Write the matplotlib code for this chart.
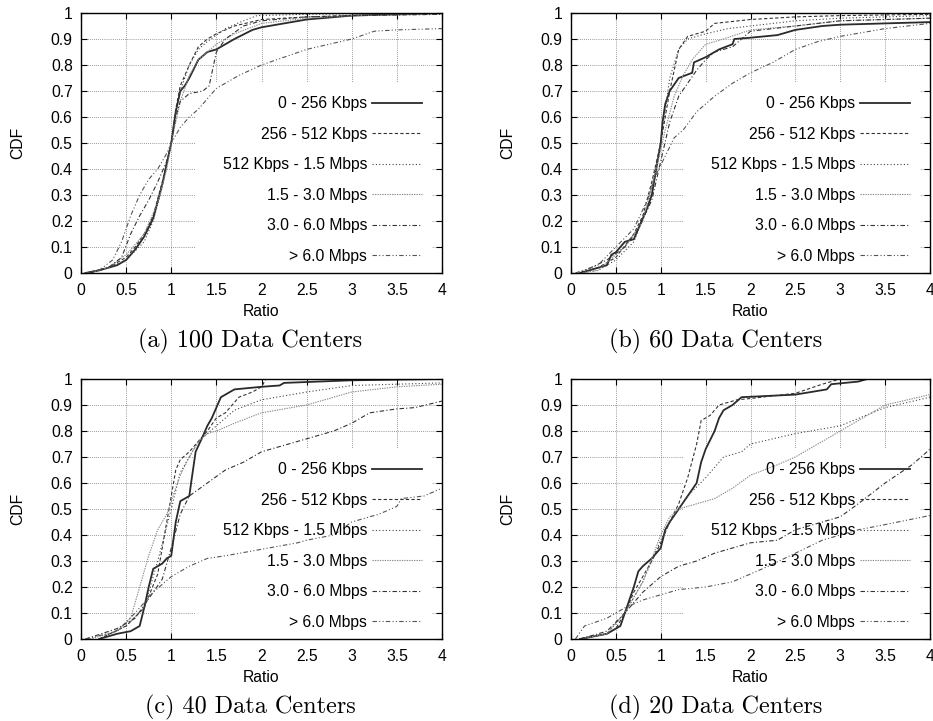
import matplotlib
matplotlib.use("Agg")
import matplotlib.pyplot as plt
from matplotlib.patches import Rectangle

plt.rcParams['font.family'] = ['Liberation Sans', 'DejaVu Sans']

labels = ["0 - 256 Kbps", "256 - 512 Kbps", "512 Kbps - 1.5 Mbps",
          "1.5 - 3.0 Mbps", "3.0 - 6.0 Mbps", "> 6.0 Mbps"]
captions = ["(a) 100 Data Centers", "(b) 60 Data Centers",
            "(c) 40 Data Centers", "(d) 20 Data Centers"]
xticks = [0, 0.5, 1, 1.5, 2, 2.5, 3, 3.5, 4]
xtick_labels = ["0", "0.5", "1", "1.5", "2", "2.5", "3", "3.5", "4"]
yticks = [0, 0.1, 0.2, 0.3, 0.4, 0.5, 0.6, 0.7, 0.8, 0.9, 1]
ytick_labels = ["0", "0.1", "0.2", "0.3", "0.4", "0.5", "0.6", "0.7", "0.8", "0.9", "1"]

# ---- (a) 100 data centers
a1_x = [0.05, 0.2, 0.4, 0.5, 0.6, 0.7, 0.8, 0.9, 0.95, 1.0, 1.05, 1.1, 1.15, 1.2, 1.3, 1.4, 1.5, 1.7, 1.9, 2.0, 2.5, 3.0, 3.5, 4.0]
a1_y = [0, 0.01, 0.03, 0.05, 0.09, 0.14, 0.21, 0.34, 0.42, 0.5, 0.62, 0.7, 0.72, 0.75, 0.82, 0.85, 0.86, 0.9, 0.935, 0.945, 0.975, 0.99, 0.995, 1.0]
a2_x = [0.05, 0.3, 0.5, 0.6, 0.7, 0.8, 0.9, 1.0, 1.05, 1.1, 1.2, 1.3, 1.4, 1.5, 1.7, 2.0, 2.5, 3.0, 4.0]
a2_y = [0, 0.02, 0.06, 0.1, 0.15, 0.22, 0.35, 0.5, 0.63, 0.72, 0.8, 0.87, 0.9, 0.92, 0.95, 0.975, 0.985, 0.99, 1.0]
a3_x = [0.05, 0.3, 0.5, 0.7, 0.8, 0.9, 1.0, 1.05, 1.1, 1.2, 1.3, 1.4, 1.6, 1.8, 1.95, 2.5, 4.0]
a3_y = [0, 0.02, 0.05, 0.12, 0.2, 0.33, 0.5, 0.62, 0.7, 0.8, 0.86, 0.89, 0.94, 0.97, 0.99, 0.995, 1.0]
a4_x = [0.1, 0.3, 0.5, 0.7, 0.85, 0.95, 1.0, 1.1, 1.2, 1.3, 1.5, 1.7, 2.0, 2.5, 3.0, 4.0]
a4_y = [0, 0.02, 0.07, 0.15, 0.27, 0.4, 0.5, 0.66, 0.76, 0.82, 0.88, 0.92, 0.96, 0.98, 0.99, 0.995]
a5_x = [0.1, 0.3, 0.45, 0.55, 0.65, 0.75, 0.85, 0.95, 1.0, 1.05, 1.1, 1.2, 1.35, 1.42, 1.5, 1.6, 1.8, 2.0, 2.5, 3.0, 4.0]
a5_y = [0, 0.02, 0.06, 0.15, 0.22, 0.28, 0.35, 0.43, 0.5, 0.6, 0.66, 0.69, 0.7, 0.72, 0.85, 0.9, 0.95, 0.97, 0.985, 0.99, 0.995]
a6_x = [0.05, 0.2, 0.35, 0.45, 0.55, 0.65, 0.75, 0.85, 0.95, 1.0, 1.05, 1.1, 1.2, 1.3, 1.4, 1.5, 1.75, 2.0, 2.25, 2.5, 2.75, 3.0, 3.25, 3.5, 4.0]
a6_y = [0, 0.01, 0.05, 0.12, 0.22, 0.3, 0.36, 0.4, 0.46, 0.5, 0.53, 0.56, 0.6, 0.63, 0.67, 0.71, 0.76, 0.8, 0.83, 0.86, 0.88, 0.9, 0.93, 0.935, 0.94]

# ---- (b) 60 data centers
b1_x = [0.1, 0.2, 0.4, 0.45, 0.5, 0.55, 0.6, 0.7, 0.75, 0.85, 0.9, 0.95, 1.0, 1.02, 1.05, 1.1, 1.2, 1.35, 1.37, 1.5, 1.65, 1.8, 1.82, 2.0, 2.3, 2.5, 2.8, 3.0, 3.5, 4.0]
b1_y = [0, 0.01, 0.03, 0.07, 0.08, 0.1, 0.12, 0.13, 0.17, 0.25, 0.3, 0.4, 0.5, 0.58, 0.65, 0.7, 0.75, 0.77, 0.81, 0.83, 0.86, 0.88, 0.9, 0.905, 0.915, 0.935, 0.95, 0.955, 0.96, 0.965]
b2_x = [0.1, 0.3, 0.5, 0.7, 0.8, 0.9, 1.0, 1.1, 1.2, 1.3, 1.5, 1.6, 2.0, 2.5, 3.0, 4.0]
b2_y = [0, 0.02, 0.06, 0.15, 0.22, 0.35, 0.5, 0.7, 0.86, 0.91, 0.93, 0.96, 0.975, 0.985, 0.99, 0.995]
b3_x = [0.1, 0.3, 0.5, 0.7, 0.85, 0.95, 1.0, 1.1, 1.2, 1.3, 1.5, 1.75, 2.0, 2.5, 3.0, 4.0]
b3_y = [0, 0.01, 0.05, 0.12, 0.25, 0.42, 0.5, 0.75, 0.86, 0.9, 0.92, 0.94, 0.95, 0.97, 0.98, 0.99]
b4_x = [0.1, 0.3, 0.6, 0.8, 0.95, 1.05, 1.15, 1.25, 1.35, 1.5, 1.7, 2.0, 2.5, 3.0, 4.0]
b4_y = [0, 0.01, 0.1, 0.2, 0.4, 0.55, 0.68, 0.76, 0.82, 0.88, 0.9, 0.935, 0.95, 0.97, 0.98]
b5_x = [0.1, 0.4, 0.6, 0.75, 0.9, 1.0, 1.1, 1.2, 1.3, 1.4, 1.5, 1.6, 1.8, 1.9, 2.0, 2.5, 3.0, 3.5, 4.0]
b5_y = [0, 0.05, 0.1, 0.17, 0.28, 0.43, 0.58, 0.68, 0.73, 0.78, 0.82, 0.85, 0.87, 0.9, 0.93, 0.95, 0.97, 0.975, 0.98]
b6_x = [0.05, 0.3, 0.5, 0.7, 0.85, 0.95, 1.05, 1.15, 1.25, 1.4, 1.6, 1.8, 2.0, 2.25, 2.5, 2.75, 3.0, 3.5, 4.0]
b6_y = [0, 0.03, 0.1, 0.17, 0.28, 0.38, 0.45, 0.52, 0.55, 0.62, 0.68, 0.73, 0.77, 0.81, 0.86, 0.89, 0.91, 0.94, 0.96]

# ---- (c) 40 data centers
c1_x = [0.2, 0.4, 0.55, 0.65, 0.7, 0.75, 0.8, 0.9, 0.95, 1.0, 1.05, 1.1, 1.2, 1.22, 1.27, 1.35, 1.4, 1.45, 1.5, 1.55, 1.7, 2.0, 2.2, 2.25, 3.0, 4.0]
c1_y = [0, 0.02, 0.03, 0.05, 0.12, 0.2, 0.27, 0.29, 0.31, 0.32, 0.45, 0.53, 0.55, 0.6, 0.72, 0.78, 0.82, 0.85, 0.89, 0.93, 0.96, 0.97, 0.975, 0.985, 0.995, 1.0]
c2_x = [0.2, 0.5, 0.7, 0.85, 0.95, 1.05, 1.1, 1.2, 1.3, 1.4, 1.5, 1.6, 1.75, 1.9, 2.0, 2.05, 4.0]
c2_y = [0, 0.05, 0.12, 0.25, 0.45, 0.65, 0.69, 0.72, 0.76, 0.8, 0.85, 0.87, 0.93, 0.95, 0.97, 1.0, 1.0]
c3_x = [0.2, 0.5, 0.7, 0.85, 1.0, 1.1, 1.2, 1.3, 1.5, 1.7, 2.0, 2.5, 3.0, 3.5, 4.0]
c3_y = [0, 0.05, 0.12, 0.3, 0.5, 0.64, 0.7, 0.76, 0.82, 0.88, 0.92, 0.95, 0.975, 0.98, 0.985]
c4_x = [0.1, 0.4, 0.55, 0.65, 0.75, 0.85, 0.95, 1.0, 1.1, 1.2, 1.3, 1.4, 1.5, 1.7, 2.0, 2.5, 2.8, 3.0, 3.5, 4.0]
c4_y = [0, 0.03, 0.08, 0.2, 0.32, 0.42, 0.48, 0.53, 0.63, 0.7, 0.76, 0.79, 0.8, 0.83, 0.87, 0.9, 0.93, 0.95, 0.97, 0.98]
c5_x = [0.05, 0.4, 0.6, 0.8, 0.9, 1.0, 1.1, 1.2, 1.4, 1.6, 1.8, 2.0, 2.5, 2.8, 3.0, 3.2, 3.5, 3.7, 4.0]
c5_y = [0, 0.04, 0.08, 0.18, 0.23, 0.35, 0.48, 0.55, 0.6, 0.65, 0.68, 0.72, 0.77, 0.8, 0.83, 0.87, 0.885, 0.89, 0.915]
c6_x = [0.05, 0.4, 0.6, 0.8, 1.0, 1.2, 1.4, 1.6, 2.0, 2.4, 2.5, 2.8, 3.0, 3.3, 3.5, 3.55, 3.8, 4.0]
c6_y = [0, 0.03, 0.1, 0.18, 0.24, 0.28, 0.31, 0.32, 0.345, 0.37, 0.38, 0.4, 0.45, 0.48, 0.51, 0.54, 0.55, 0.58]

# ---- (d) 20 data centers
d1_x = [0.1, 0.4, 0.55, 0.6, 0.7, 0.75, 0.8, 0.9, 1.0, 1.05, 1.1, 1.2, 1.3, 1.4, 1.45, 1.5, 1.6, 1.65, 1.7, 1.8, 1.9, 2.5, 2.85, 2.9, 3.2, 3.3]
d1_y = [0, 0.02, 0.05, 0.1, 0.2, 0.26, 0.28, 0.31, 0.35, 0.42, 0.45, 0.5, 0.55, 0.6, 0.68, 0.73, 0.8, 0.85, 0.88, 0.9, 0.93, 0.94, 0.96, 0.98, 0.99, 1.0]
d2_x = [0.1, 0.4, 0.5, 0.6, 0.7, 0.8, 0.9, 1.0, 1.1, 1.2, 1.3, 1.4, 1.45, 1.55, 1.65, 1.85, 2.0, 2.5, 2.8, 3.0]
d2_y = [0, 0.02, 0.04, 0.1, 0.18, 0.24, 0.3, 0.37, 0.45, 0.52, 0.62, 0.75, 0.84, 0.86, 0.9, 0.92, 0.925, 0.945, 0.98, 1.0]
d3_x = [0.1, 0.4, 0.6, 0.8, 1.0, 1.1, 1.3, 1.5, 1.7, 1.9, 2.0, 2.5, 3.0, 3.5, 4.0]
d3_y = [0, 0.02, 0.1, 0.22, 0.38, 0.45, 0.55, 0.62, 0.7, 0.72, 0.75, 0.79, 0.82, 0.89, 0.93]
d4_x = [0.1, 0.4, 0.6, 0.8, 1.0, 1.1, 1.2, 1.4, 1.6, 1.8, 2.0, 2.3, 2.5, 2.8, 3.0, 3.2, 3.5, 4.0]
d4_y = [0, 0.02, 0.1, 0.22, 0.4, 0.47, 0.5, 0.52, 0.54, 0.58, 0.63, 0.67, 0.7, 0.76, 0.8, 0.84, 0.9, 0.94]
d5_x = [0.1, 0.4, 0.6, 0.8, 1.0, 1.2, 1.4, 1.6, 1.8, 2.0, 2.3, 2.5, 3.0, 3.2, 3.5, 3.8, 4.0]
d5_y = [0, 0.03, 0.1, 0.18, 0.24, 0.28, 0.3, 0.33, 0.35, 0.37, 0.38, 0.42, 0.47, 0.52, 0.6, 0.67, 0.73]
d6_x = [0.05, 0.15, 0.4, 0.6, 0.8, 1.0, 1.2, 1.5, 1.8, 2.0, 2.2, 2.5, 2.8, 3.0, 3.2, 3.5, 4.0]
d6_y = [0, 0.05, 0.08, 0.12, 0.15, 0.17, 0.19, 0.2, 0.22, 0.25, 0.28, 0.33, 0.38, 0.4, 0.42, 0.44, 0.475]

panels = [
    [(a1_x, a1_y), (a2_x, a2_y), (a3_x, a3_y), (a4_x, a4_y), (a5_x, a5_y), (a6_x, a6_y)],
    [(b1_x, b1_y), (b2_x, b2_y), (b3_x, b3_y), (b4_x, b4_y), (b5_x, b5_y), (b6_x, b6_y)],
    [(c1_x, c1_y), (c2_x, c2_y), (c3_x, c3_y), (c4_x, c4_y), (c5_x, c5_y), (c6_x, c6_y)],
    [(d1_x, d1_y), (d2_x, d2_y), (d3_x, d3_y), (d4_x, d4_y), (d5_x, d5_y), (d6_x, d6_y)],
]

# gnuplot-like line types
styles = [
    dict(color="#2a2a2a", lw=1.3, ls="-"),
    dict(color="#333333", lw=0.8, ls=(0, (3, 2))),
    dict(color="#444444", lw=0.8, ls=(0, (1, 2))),
    dict(color="#8a8a8a", lw=0.8, ls=(0, (1.2, 1))),
    dict(color="#333333", lw=0.8, ls=(0, (4, 2, 1, 2))),
    dict(color="#555555", lw=0.8, ls=(0, (4, 2, 1, 2, 1, 2))),
]

FS = 11.3
W, H = 933, 721
fig = plt.figure(figsize=(W / 100, H / 100), dpi=100)

# axes boxes in pixels: left, top, right, bottom
boxes = [(81, 13, 442, 273), (571, 13, 930, 273),
         (81, 379, 442, 639), (571, 379, 930, 639)]
caption_x = [250, 716, 250, 716]

for i, (l, t, r, b) in enumerate(boxes):
    ax = fig.add_axes([l / W, 1 - b / H, (r - l) / W, (b - t) / H])
    ax.set_xlim(0, 4)
    ax.set_ylim(0, 1)
    ax.set_xticks(xticks)
    ax.set_xticklabels(xtick_labels)
    ax.set_yticks(yticks)
    ax.set_yticklabels(ytick_labels)
    ax.tick_params(direction="in", length=4, width=0.8, top=True, right=True,
                   labelsize=FS, pad=6)
    ax.tick_params(axis="x", pad=7)
    for sp in ax.spines.values():
        sp.set_linewidth(1.0)
    ax.set_axisbelow(True)
    ax.grid(True, color="#777777", lw=0.6, ls=(0, (1, 1.5)))
    # opaque key area hides the grid behind it
    ax.add_patch(Rectangle((1.26, 0), 3.89 - 1.26, 0.73, facecolor="white",
                           edgecolor="none", zorder=1))

    for (xs, ys), st, lab in zip(panels[i], styles, labels):
        ax.plot(xs, ys, label=lab, zorder=2, **st)

    leg = ax.legend(loc="lower right", bbox_to_anchor=(0.945, 0.035),
                    frameon=False, markerfirst=False, handlelength=3.2,
                    handletextpad=0.3, labelspacing=0.99, borderpad=0,
                    borderaxespad=0, fontsize=FS)
    leg.set_zorder(5)

    fig.text((l - 63) / W, 1 - (t + b) / 2 / H, "CDF", rotation=90,
             ha="center", va="center", fontsize=FS)
    fig.text((l + r) / 2 / W, 1 - (b + 39) / H, "Ratio",
             ha="center", va="center", fontsize=FS)
    fig.text(caption_x[i] / W, 1 - (b + 68) / H, captions[i],
             ha="center", va="center", fontsize=17.4, family="cmr10")

fig.savefig("out.png", dpi=100)
